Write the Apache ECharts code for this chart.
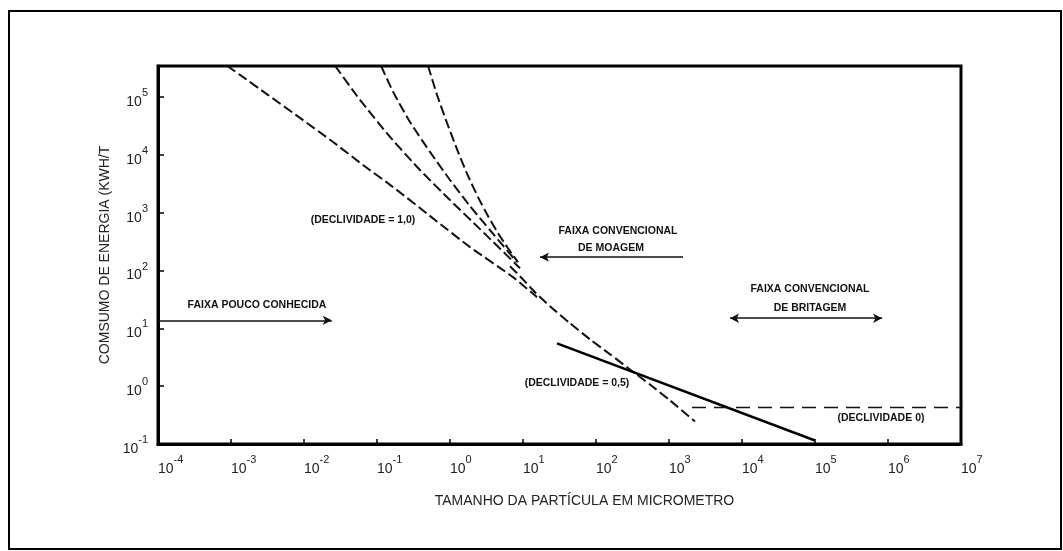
<!DOCTYPE html>
<html>
<head>
<meta charset="utf-8">
<script src="https://cdn.jsdelivr.net/npm/echarts@6/dist/echarts.min.js"></script>
<style>
html, body { margin: 0; padding: 0; background: #fff; }
#chart { width: 1063px; height: 551px; }
</style>
</head>
<body>
<div id="chart"></div>
<script>
// particle size (micrometre) / energy (kWh/t)
var curveA_x = [8.8e-4, 1.33e-3, 3.2e-3, 8.8e-3, 0.025, 0.0643, 0.166, 0.58, 1.88, 7.3, 15.6];
var curveA_y = [3.5e5, 2.43e5, 1.1e5, 4.38e4, 1.68e4, 6710, 2790, 810, 255, 77, 34.6];

var curveB_x = [0.0266, 0.0585, 0.151, 0.388, 1.0, 2.58, 9.1];
var curveB_y = [3.5e5, 8.98e4, 2.05e4, 5500, 1660, 522, 110];

var curveC_x = [0.1135, 0.166, 0.283, 0.532, 1.0, 1.88, 3.53, 8.28];
var curveC_y = [3.5e5, 1.24e5, 3.73e4, 1.13e4, 3690, 1306, 501, 140];

var curveD_x = [0.5, 0.664, 0.91, 1.29, 1.77, 2.42, 3.32, 4.55, 6.23, 8.55];
var curveD_y = [3.5e5, 1.1e5, 3.59e4, 1.13e4, 4330, 1870, 877, 445, 244, 140];

var trunk_x = [6.64, 9.1, 14.6, 23.4, 44.0, 82.8, 156, 292, 549, 1032, 2270];
var trunk_y = [119, 80, 42.2, 24.2, 12.3, 6.47, 3.56, 1.95, 1.07, 0.567, 0.245];

var slope05_x = [29.2, 1e5];
var slope05_y = [5.5, 0.115];

var slope0_x = [2065, 1e7];
var slope0_y = [0.43, 0.43];

// range arrows: [x from, x to, y]
var arrowPouco = [1e-4, 0.024, 13.8];
var arrowMoagem = [1556, 17.1, 171];
var arrowBritagem = [6855, 8.3e5, 15];

// axis exponents
var xExpMin = -4, xExpMax = 7;
var yExpMin = -1, yExpMax = 5.54;

var xName = 'TAMANHO DA PARTÍCULA EM MICROMETRO';
var yName = 'COMSUMO DE ENERGIA (KWH/T';

var font = '"Liberation Sans", Arial, sans-serif';

function pts(xs, ys) {
    return xs.map(function (x, i) { return [Math.log10(x), Math.log10(ys[i])]; });
}

function powLabel(v) {
    if (Math.abs(v - Math.round(v)) > 1e-6) return '';
    return '{b|10}{s|' + Math.round(v) + '}';
}

var labelRich = {
    b: { fontSize: 14, fontFamily: font, color: '#222', padding: [10, 0, 0, 0] },
    s: { fontSize: 11, fontFamily: font, color: '#222', padding: [0, 0, 8, 0] }
};

function dashed(data) {
    return {
        type: 'line',
        data: data,
        showSymbol: false,
        smooth: 0.2,
        lineStyle: { color: '#111', width: 2, type: [10, 4] },
        silent: true
    };
}

function arrowLine(a, syms) {
    return [
        { coord: [Math.log10(a[0]), Math.log10(a[2])], symbol: syms[0] },
        { coord: [Math.log10(a[1]), Math.log10(a[2])], symbol: syms[1] }
    ];
}

function note(text, x, y) {
    return {
        type: 'text',
        x: x, y: y,
        style: {
            text: text, fill: '#111', font: 'bold 10.5px ' + font,
            align: 'center', verticalAlign: 'middle'
        }
    };
}

var chart = echarts.init(document.getElementById('chart'));

var option = {
    animation: false,
    backgroundColor: '#fff',
    grid: {
        left: 158, right: 102, top: 66, bottom: 107,
        show: true, borderColor: '#000', borderWidth: 3
    },
    xAxis: {
        type: 'value',
        min: xExpMin, max: xExpMax, interval: 1,
        name: xName,
        nameLocation: 'middle',
        nameGap: 50,
        nameTextStyle: { fontSize: 14, fontFamily: font, color: '#222', padding: [0, 0, 0, 50] },
        axisLine: { onZero: false, lineStyle: { color: '#000', width: 3 } },
        axisTick: { inside: true, length: 5, lineStyle: { color: '#000', width: 1.5 } },
        splitLine: { show: false },
        axisLabel: { formatter: powLabel, rich: labelRich, margin: 8, align: 'left' }
    },
    yAxis: {
        type: 'value',
        min: yExpMin, max: yExpMax, interval: 1,
        name: yName,
        nameLocation: 'middle',
        nameGap: 43,
        nameTextStyle: { fontSize: 14, fontFamily: font, color: '#222' },
        axisLine: { onZero: false, lineStyle: { color: '#000', width: 3 } },
        axisTick: { inside: true, length: 6, lineStyle: { color: '#000', width: 1.5 } },
        splitLine: { show: false },
        axisLabel: { formatter: powLabel, rich: labelRich, margin: 10 }
    },
    series: [
        dashed(pts(curveA_x, curveA_y)),
        dashed(pts(curveB_x, curveB_y)),
        dashed(pts(curveC_x, curveC_y)),
        dashed(pts(curveD_x, curveD_y)),
        dashed(pts(trunk_x, trunk_y)),
        {
            type: 'line',
            data: pts(slope05_x, slope05_y),
            showSymbol: false,
            lineStyle: { color: '#000', width: 2.5 },
            silent: true
        },
        {
            type: 'line',
            data: pts(slope0_x, slope0_y),
            showSymbol: false,
            lineStyle: { color: '#111', width: 1.5, type: [14, 8] },
            silent: true,
            markLine: {
                silent: true,
                symbolSize: [7, 9],
                label: { show: false },
                lineStyle: { color: '#111', width: 1.5, type: 'solid' },
                data: [
                    arrowLine(arrowPouco, ['none', 'arrow']),
                    arrowLine(arrowMoagem, ['none', 'arrow']),
                    arrowLine(arrowBritagem, ['arrow', 'arrow'])
                ]
            }
        }
    ],
    graphic: [
        {
            type: 'rect',
            shape: { x: 9, y: 11, width: 1052, height: 538 },
            style: { fill: 'none', stroke: '#000', lineWidth: 2 },
            silent: true
        },
        note('FAIXA POUCO CONHECIDA', 257, 305),
        note('FAIXA CONVENCIONAL', 618, 231),
        note('DE MOAGEM', 611, 248),
        note('FAIXA CONVENCIONAL', 810, 289),
        note('DE BRITAGEM', 810, 308),
        note('(DECLIVIDADE = 1,0)', 363, 220),
        note('(DECLIVIDADE = 0,5)', 577, 383),
        note('(DECLIVIDADE 0)', 881, 418)
    ]
};

chart.setOption(option);

window.onresize = chart.resize;
</script>
</body>
</html>
